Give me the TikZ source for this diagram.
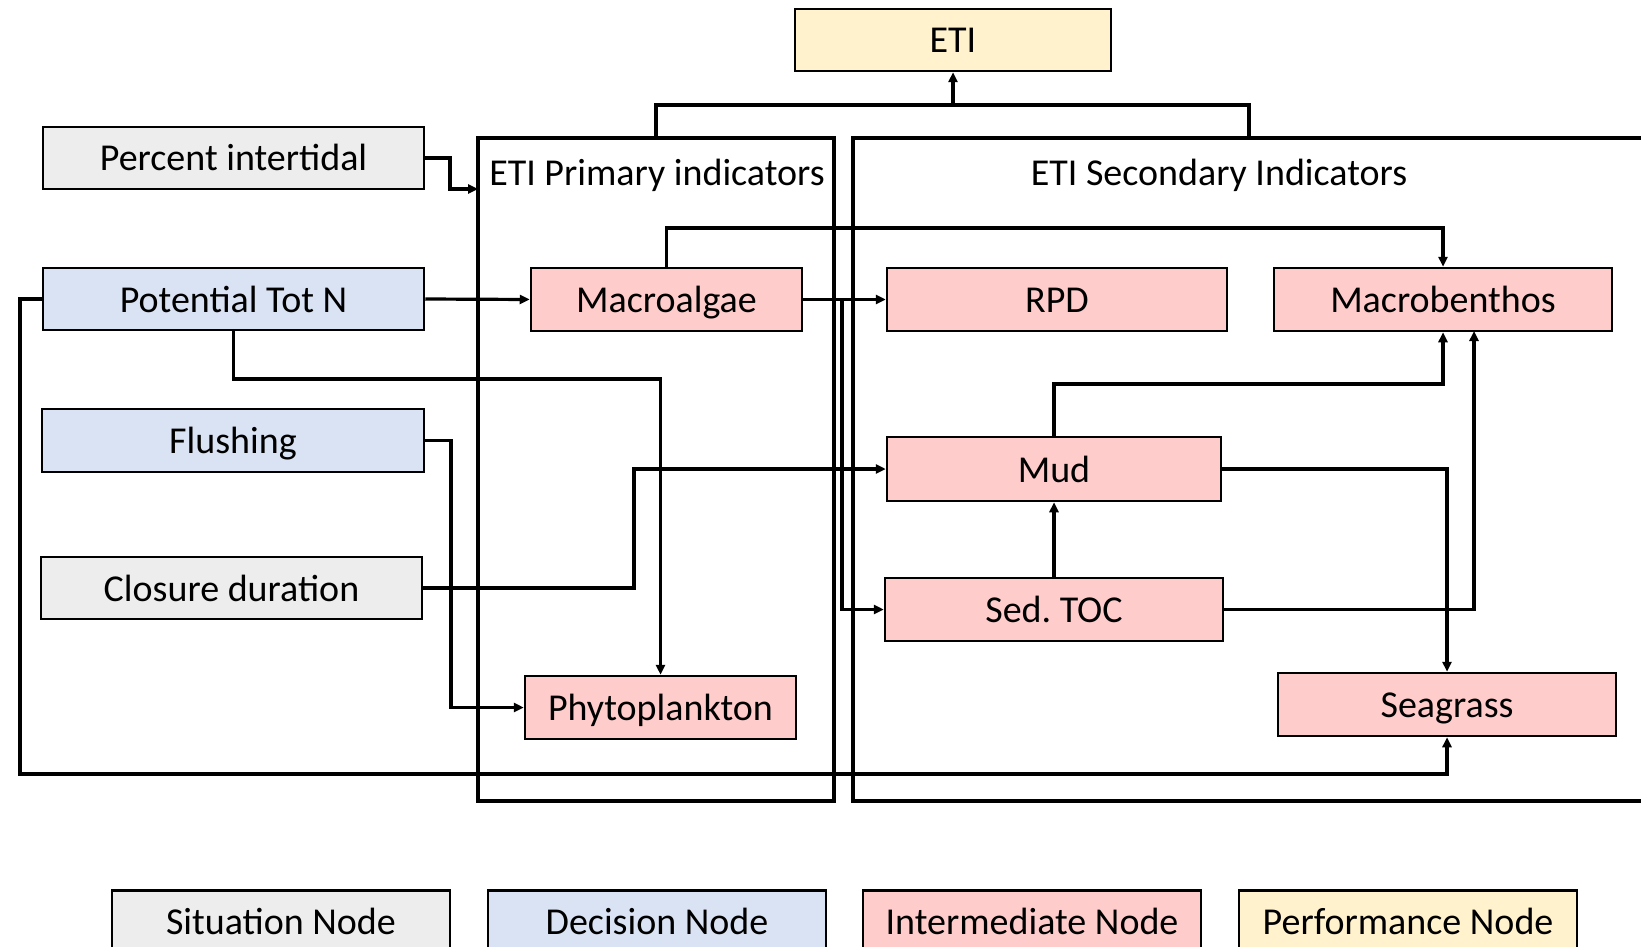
\documentclass[tikz,border=0pt]{standalone}
\usepackage{fontspec}
\setmainfont{Carlito}
\usetikzlibrary{arrows.meta}
\definecolor{sitfill}{HTML}{EDEDED}
\definecolor{decfill}{HTML}{DAE3F3}
\definecolor{intfill}{HTML}{FFCCCC}
\definecolor{perffill}{HTML}{FFF2CC}
\frenchspacing
\tikzset{
  nbox/.style={draw=black, line width=2.5pt, inner sep=0pt, minimum height=62pt,
    font=\fontsize{38}{44}\selectfont, text=black, text height=30pt, text depth=4pt},
  sitnode/.style={nbox, fill=sitfill},
  decnode/.style={nbox, fill=decfill},
  intnode/.style={nbox, fill=intfill},
  perfnode/.style={nbox, fill=perffill},
  container/.style={draw=black, line width=3.5pt, inner sep=0pt},
  conn/.style={line width=3.2pt},
  arr/.style={conn, -{Triangle[length=10pt,width=9pt]}},
  lbl/.style={font=\fontsize{38}{44}\selectfont, inner sep=0pt, text height=30pt, text depth=4pt}
}
\begin{document}
\begin{tikzpicture}[x=1pt, y=-1pt]
\clip (0,0) rectangle (1641,947);
\fill[white] (0,0) rectangle (1641,947);
% containers
\draw[container] (478,138) rectangle (834,801);
\draw[container] (853,138) rectangle (1680,801);
\coordinate (primtop) at (656,138);
\coordinate (sectop) at (1249,138);
\coordinate (primleft) at (478,189);
\node[lbl] (primlbl) at (657,172) {ETI Primary indicators};
\node[lbl] (seclbl) at (1219,172) {ETI Secondary Indicators};

% nodes
\node[perfnode, minimum width=316pt] (eti) at (953,40) {ETI};
\node[sitnode, minimum width=381pt] (pi) at (233.5,158) {Percent intertidal};
\node[decnode, minimum width=381pt] (ptn) at (233.5,299) {Potential Tot N};
\node[decnode, minimum width=382pt, minimum height=63pt] (flush) at (233,440.5) {Flushing};
\node[sitnode, minimum width=381pt] (closure) at (231.5,588) {Closure duration};
\node[intnode, minimum width=271pt, minimum height=63pt] (macro) at (666.5,299.5) {Macroalgae};
\node[intnode, minimum width=271pt, minimum height=63pt] (phyto) at (660.5,707.5) {Phytoplankton};
\node[intnode, minimum width=340pt, minimum height=63pt] (rpd) at (1057,299.5) {RPD};
\node[intnode, minimum width=338pt, minimum height=63pt] (mb) at (1443,299.5) {Macrobenthos};
\node[intnode, minimum width=334pt, minimum height=64pt] (mud) at (1054,469) {Mud};
\node[intnode, minimum width=338pt, minimum height=63pt] (toc) at (1054,609.5) {Sed. TOC};
\node[intnode, minimum width=338pt, minimum height=63pt] (sea) at (1447,704.5) {Seagrass};

% connectors
\draw[conn] (primtop) -- (656,105) -- (1249,105) -- (sectop);
\draw[arr] (953,105) -- (eti.south);
\draw[arr] (pi.east) -- (450,158) -- (450,189) -- (primleft);
\draw[arr] (ptn.east) -- (macro.west);
\draw[arr] (ptn.south) -- (233.5,379) -- (660.5,379) -- (phyto.north);
\draw[arr] (ptn.west) -- (20,299) -- (20,774) -- (1447,774) -- (sea.south);
\draw[arr] (flush.east) -- (451,440.5) -- (451,707.5) -- (phyto.west);
\draw[arr] (closure.east) -- (634,588) -- (634,469) -- (mud.west);
\draw[arr] (macro.north) -- (666.5,228) -- (1443,228) -- (mb.north);
\draw[arr] (macro.east) -- (rpd.west);
\draw[arr] (842,299.5) -- (842,609.5) -- (toc.west);
\draw[arr] (mud.north) -- (1054,384) -- (1443,384) -- (mb.south);
\draw[arr] (toc.north) -- (mud.south);
\draw[arr] (mud.east) -- (1447,469) -- (sea.north);
\draw[arr] (toc.east) -- (1474,609.5) -- (1474,331);

% legend
\node[sitnode, minimum width=338pt, anchor=north] (lsit) at (281,889) {Situation Node};
\node[decnode, minimum width=338pt, anchor=north] (ldec) at (657,889) {Decision Node};
\node[intnode, minimum width=338pt, anchor=north] (lint) at (1032,889) {Intermediate Node};
\node[perfnode, minimum width=338pt, anchor=north] (lperf) at (1408,889) {Performance Node};
\end{tikzpicture}
\end{document}
